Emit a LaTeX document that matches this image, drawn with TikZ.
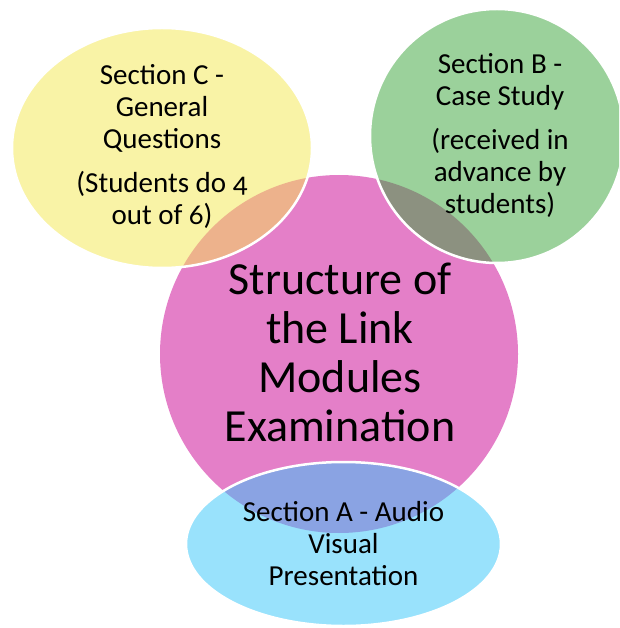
\documentclass[tikz,border=0pt]{standalone}
\usepackage{fontspec}
\setmainfont{Carlito}[Numbers=OldStyle]
\usetikzlibrary{positioning}

\definecolor{pinkfill}{RGB}{228,127,200}
\definecolor{yellowfill}{RGB}{249,243,166}
\definecolor{greenfill}{RGB}{155,209,155}
\definecolor{bluefill}{RGB}{153,226,252}
\definecolor{orangemix}{RGB}{237,178,140}
\definecolor{greymix}{RGB}{140,145,128}
\definecolor{purplemix}{RGB}{138,163,227}

\tikzset{
  venn/.style={draw=white, line width=2.5pt},
  sectiontext/.style={align=center, font=\fontsize{29}{32}\selectfont},
  titletext/.style={align=center, font=\fontsize{46}{49}\selectfont},
}

\begin{document}
\begin{tikzpicture}[x=1pt, y=-1pt]
    \useasboundingbox (0,0) rectangle (619,628);
    \clip (0,0) rectangle (619,628);
    % centres of the shapes
    \coordinate (mid) at (339,354);
    \coordinate (secC) at (162,148);
    \coordinate (secB) at (497,136);
    \coordinate (secA) at (343.5,544);
    % main circle
    \fill [pinkfill] (mid) circle (179);
    % Section C, laid over the main circle
    \fill [yellowfill] (secC) ellipse [x radius=150, y radius=120];
    \begin{scope}
        \clip (mid) circle (179);
        \fill [orangemix] (secC) ellipse [x radius=150, y radius=120];
    \end{scope}
    \draw [venn] (secC) ellipse [x radius=150, y radius=120];
    % Section B
    \fill [greenfill] (secB) circle (127);
    \begin{scope}
        \clip (mid) circle (179);
        \fill [greymix] (secB) circle (127);
    \end{scope}
    \draw [venn] (secB) circle (127);
    % Section A
    \fill [bluefill] (secA) ellipse [x radius=157.5, y radius=82];
    \begin{scope}
        \clip (mid) circle (179);
        \fill [purplemix] (secA) ellipse [x radius=157.5, y radius=82];
    \end{scope}
    \draw [venn] (secA) ellipse [x radius=157.5, y radius=82];
    % Texts
    \node (title) [titletext] at (340,352) {Structure of\\the Link\\Modules\\Examination};
    \node (textC) [sectiontext] at (162,146) {Section C -\\General\\Questions\\[12pt](Students do 4\\out of 6)};
    \node (textB) [sectiontext] at (500,135) {Section B -\\Case Study\\[12pt](received in\\advance by\\students)};
    \node (textA) [sectiontext] at (343.5,543.5) {Section A - Audio\\Visual\\Presentation};
\end{tikzpicture}
\end{document}
